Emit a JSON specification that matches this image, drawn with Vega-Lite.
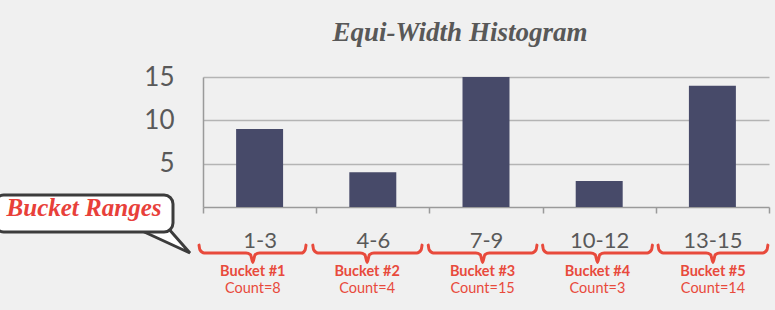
{
  "$schema": "https://vega.github.io/schema/vega-lite/v6.json",
  "width": 566,
  "height": 130,
  "autosize": {"type": "none"},
  "padding": {"left": 203, "top": 77, "right": 6, "bottom": 103},
  "background": "#f0f0f0",
  "config": {"view": {"stroke": null}, "font": "Lato"},
  "title": {
    "text": "Equi-Width Histogram",
    "font": "Liberation Serif",
    "fontSize": 27,
    "fontStyle": "italic",
    "fontWeight": "bold",
    "color": "#585858",
    "anchor": "middle",
    "dx": -26,
    "offset": 17
  },
  "datasets": {
    "bars": [
      {"range": "1-3", "count": 9},
      {"range": "4-6", "count": 4},
      {"range": "7-9", "count": 15},
      {"range": "10-12", "count": 3},
      {"range": "13-15", "count": 14}
    ],
    "braces": [
      {"b": 1, "bx": -0.035, "by": -4.4}, {"b": 1, "bx": -0.027, "by": -4.95}, {"b": 1, "bx": 0.01, "by": -5.31}, {"b": 1, "bx": 0.38, "by": -5.31}, {"b": 1, "bx": 0.42, "by": -5.5}, {"b": 1, "bx": 0.44, "by": -6.4}, {"b": 1, "bx": 0.46, "by": -5.5}, {"b": 1, "bx": 0.5, "by": -5.31}, {"b": 1, "bx": 0.87, "by": -5.31}, {"b": 1, "bx": 0.902, "by": -4.95}, {"b": 1, "bx": 0.91, "by": -4.4},
      {"b": 2, "bx": 0.97, "by": -4.4}, {"b": 2, "bx": 0.978, "by": -4.95}, {"b": 2, "bx": 1.015, "by": -5.31}, {"b": 2, "bx": 1.39, "by": -5.31}, {"b": 2, "bx": 1.43, "by": -5.5}, {"b": 2, "bx": 1.45, "by": -6.4}, {"b": 2, "bx": 1.47, "by": -5.5}, {"b": 2, "bx": 1.51, "by": -5.31}, {"b": 2, "bx": 1.89, "by": -5.31}, {"b": 2, "bx": 1.927, "by": -4.95}, {"b": 2, "bx": 1.935, "by": -4.4},
      {"b": 3, "bx": 1.99, "by": -4.4}, {"b": 3, "bx": 1.998, "by": -4.95}, {"b": 3, "bx": 2.035, "by": -5.31}, {"b": 3, "bx": 2.41, "by": -5.31}, {"b": 3, "bx": 2.45, "by": -5.5}, {"b": 3, "bx": 2.47, "by": -6.4}, {"b": 3, "bx": 2.49, "by": -5.5}, {"b": 3, "bx": 2.53, "by": -5.31}, {"b": 3, "bx": 2.905, "by": -5.31}, {"b": 3, "bx": 2.942, "by": -4.95}, {"b": 3, "bx": 2.95, "by": -4.4},
      {"b": 4, "bx": 3.0, "by": -4.4}, {"b": 4, "bx": 3.008, "by": -4.95}, {"b": 4, "bx": 3.045, "by": -5.31}, {"b": 4, "bx": 3.425, "by": -5.31}, {"b": 4, "bx": 3.465, "by": -5.5}, {"b": 4, "bx": 3.485, "by": -6.4}, {"b": 4, "bx": 3.505, "by": -5.5}, {"b": 4, "bx": 3.545, "by": -5.31}, {"b": 4, "bx": 3.925, "by": -5.31}, {"b": 4, "bx": 3.962, "by": -4.95}, {"b": 4, "bx": 3.97, "by": -4.4},
      {"b": 5, "bx": 4.02, "by": -4.4}, {"b": 5, "bx": 4.028, "by": -4.95}, {"b": 5, "bx": 4.065, "by": -5.31}, {"b": 5, "bx": 4.445, "by": -5.31}, {"b": 5, "bx": 4.485, "by": -5.5}, {"b": 5, "bx": 4.505, "by": -6.4}, {"b": 5, "bx": 4.525, "by": -5.5}, {"b": 5, "bx": 4.565, "by": -5.31}, {"b": 5, "bx": 4.945, "by": -5.31}, {"b": 5, "bx": 4.982, "by": -4.95}, {"b": 5, "bx": 4.99, "by": -4.4}
    ],
    "labels": [
      {"c": 0.44, "bucket": "Bucket #1", "count": "Count=8"},
      {"c": 1.45, "bucket": "Bucket #2", "count": "Count=4"},
      {"c": 2.47, "bucket": "Bucket #3", "count": "Count=15"},
      {"c": 3.485, "bucket": "Bucket #4", "count": "Count=3"},
      {"c": 4.505, "bucket": "Bucket #5", "count": "Count=14"}
    ],
    "callout": [
      {"text": "Bucket Ranges", "x1": -1.84, "x2": -0.265, "y1": 1.385, "y2": -2.885, "tx": -1.051, "ty": -1.04, "px": -0.336, "py": -2.885}
    ]
  },
  "layer": [
    {
      "data": {"name": "bars"},
      "mark": {"type": "bar", "color": "#474a69", "width": {"band": 0.415}},
      "encoding": {
        "x": {
          "field": "range", "type": "nominal", "sort": null,
          "scale": {"paddingInner": 0, "paddingOuter": 0},
          "axis": {
            "title": null, "labelAngle": 0, "labelFont": "Lato", "labelFontSize": 22,
            "labelColor": "#595959", "labelPadding": 17, "tickBand": "extent",
            "tickSize": 6, "tickColor": "#9a9a9a", "tickWidth": 1.5,
            "domainColor": "#9a9a9a", "domainWidth": 1.5, "grid": false
          }
        },
        "y": {
          "field": "count", "type": "quantitative",
          "scale": {"domain": [0, 15], "nice": false},
          "axis": {
            "title": null, "values": [5, 10, 15], "grid": true, "gridColor": "#b4b4b4",
            "gridWidth": 1.5, "ticks": false, "domain": true, "domainColor": "#9a9a9a",
            "domainWidth": 1.5, "labelFont": "Lato", "labelFontSize": 26,
            "labelColor": "#595959", "labelPadding": 29
          }
        }
      }
    },
    {
      "data": {"name": "braces"},
      "mark": {"type": "line", "color": "#e84a3c", "strokeWidth": 3, "interpolate": "monotone", "strokeCap": "round"},
      "encoding": {
        "x": {"field": "bx", "type": "quantitative", "scale": {"domain": [0, 5], "nice": false, "zero": false}, "axis": null},
        "y": {"field": "by", "type": "quantitative", "scale": {"domain": [0, 15], "nice": false}, "axis": null},
        "detail": {"field": "b", "type": "nominal"}
      }
    },
    {
      "data": {"name": "labels"},
      "mark": {"type": "text", "color": "#e84a3c", "font": "Lato", "fontSize": 14.5, "fontWeight": "bold", "baseline": "middle"},
      "encoding": {
        "x": {"field": "c", "type": "quantitative", "scale": {"domain": [0, 5], "nice": false, "zero": false}, "axis": null},
        "y": {"datum": -7.5, "type": "quantitative", "scale": {"domain": [0, 15], "nice": false}, "axis": null},
        "text": {"field": "bucket"}
      }
    },
    {
      "data": {"name": "labels"},
      "mark": {"type": "text", "color": "#e84a3c", "font": "Lato", "fontSize": 14.5, "baseline": "middle"},
      "encoding": {
        "x": {"field": "c", "type": "quantitative", "scale": {"domain": [0, 5], "nice": false, "zero": false}, "axis": null},
        "y": {"datum": -9.5, "type": "quantitative", "scale": {"domain": [0, 15], "nice": false}, "axis": null},
        "text": {"field": "count"}
      }
    },
    {
      "data": {"name": "callout"},
      "mark": {"type": "point", "shape": "M -0.833 -0.067 L 0.833 0.7 L 0.1 -0.133 Z", "size": 3600, "filled": true, "fill": "#ffffff", "stroke": "#3c3c3c", "strokeWidth": 3, "opacity": 1, "strokeJoin": "miter"},
      "encoding": {
        "x": {"field": "px", "type": "quantitative", "scale": {"domain": [0, 5], "nice": false, "zero": false}, "axis": null},
        "y": {"field": "py", "type": "quantitative", "scale": {"domain": [0, 15], "nice": false}, "axis": null}
      }
    },
    {
      "data": {"name": "callout"},
      "mark": {"type": "rect", "fill": "#ffffff", "stroke": "#3c3c3c", "strokeWidth": 3, "cornerRadius": 9},
      "encoding": {
        "x": {"field": "x1", "type": "quantitative", "scale": {"domain": [0, 5], "nice": false, "zero": false}, "axis": null},
        "x2": {"field": "x2"},
        "y": {"field": "y1", "type": "quantitative", "scale": {"domain": [0, 15], "nice": false}, "axis": null},
        "y2": {"field": "y2"}
      }
    },
    {
      "data": {"name": "callout"},
      "mark": {"type": "text", "color": "#e8403a", "font": "Liberation Serif", "fontSize": 25, "fontStyle": "italic", "fontWeight": "bold", "baseline": "alphabetic", "align": "center"},
      "encoding": {
        "x": {"field": "tx", "type": "quantitative", "scale": {"domain": [0, 5], "nice": false, "zero": false}, "axis": null},
        "y": {"field": "ty", "type": "quantitative", "scale": {"domain": [0, 15], "nice": false}, "axis": null},
        "text": {"field": "text"}
      }
    }
  ],
  "resolve": {"scale": {"x": "independent", "y": "independent"}}
}
